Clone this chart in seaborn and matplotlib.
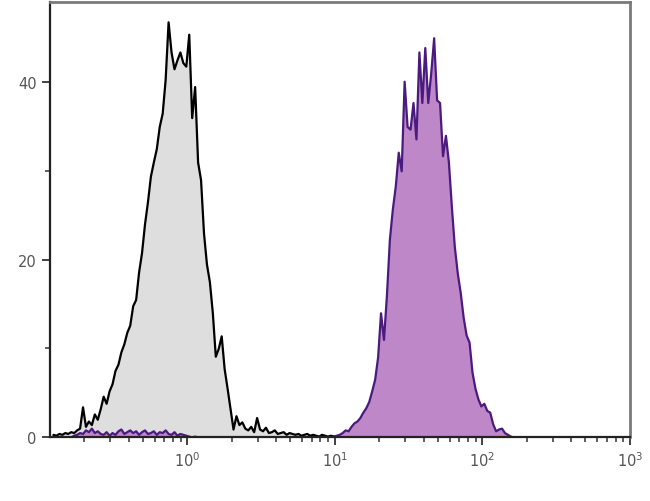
import matplotlib.pyplot as plt
import numpy as np
import pandas as pd
import seaborn as sns

# log10 channel centres, 0.02 decade wide
channel_log = np.round(np.arange(-0.91, 3.0, 0.02), 2)

# isotype control (grey), counts per channel from -0.91 up
control_counts = [
    0.3, 0.2, 0.4, 0.3, 0.5, 0.4, 0.6, 0.5, 0.8, 1.0,
    3.4, 1.2, 1.8, 1.4, 2.6, 2.0, 3.2, 4.6, 3.8, 5.2,
    6.0, 7.5, 8.2, 9.6, 10.5, 11.8, 12.6, 14.8, 15.5, 18.6,
    20.8, 24.0, 26.5, 29.4, 31.0, 32.5, 35.0, 36.5, 40.3, 46.8,
    43.4, 41.5, 42.5, 43.4, 42.2, 41.8, 45.4, 36.0, 39.5, 31.0,
    29.0, 23.0, 19.5, 17.5, 14.0, 9.1, 10.0, 11.4, 7.7, 5.5,
    3.2, 0.9, 2.4, 1.4, 1.7, 1.0, 0.8, 1.2, 0.6, 2.2,
    0.9, 0.7, 1.1, 0.5, 0.6, 0.8, 0.4, 0.5, 0.6, 0.3,
    0.5, 0.4, 0.3, 0.4, 0.2, 0.3, 0.4, 0.2, 0.3, 0.2,
    0.1, 0.3, 0.2, 0.1, 0.2, 0.1, 0.1, 0.2, 0.1,
]

# stained sample (purple), counts per channel from -0.91 up
stained_counts = [
    0.0, 0.0, 0.0, 0.0, 0.0, 0.0, 0.0, 0.2, 0.3, 0.5,
    0.4, 0.8, 0.6, 1.0, 0.5, 0.7, 0.4, 0.3, 0.6, 0.2,
    0.5, 0.3, 0.7, 0.9, 0.4, 0.6, 0.8, 0.5, 0.7, 0.3,
    0.6, 0.8, 0.4, 0.5, 0.7, 0.3, 0.6, 0.5, 0.8, 0.4,
    0.3, 0.6, 0.2, 0.4, 0.3, 0.2, 0.1, 0.0, 0.1, 0.0,
    0.0, 0.0, 0.0, 0.0, 0.0, 0.0, 0.0, 0.0, 0.0, 0.0,
    0.0, 0.0, 0.0, 0.0, 0.0, 0.0, 0.0, 0.0, 0.0, 0.0,
    0.0, 0.0, 0.0, 0.0, 0.0, 0.0, 0.0, 0.0, 0.0, 0.0,
    0.0, 0.0, 0.0, 0.0, 0.0, 0.0, 0.0, 0.0, 0.0, 0.0,
    0.0, 0.0, 0.0, 0.0, 0.0, 0.1, 0.2, 0.3, 0.5, 0.8,
    0.7, 1.2, 1.6, 1.8, 2.2, 2.8, 3.3, 4.0, 5.2, 6.5,
    9.0, 14.0, 11.0, 16.0, 22.3, 25.7, 28.3, 32.1, 30.0, 40.1,
    35.0, 34.7, 37.7, 33.6, 43.4, 37.7, 43.9, 37.7, 41.0, 45.0,
    38.0, 37.7, 31.7, 34.0, 31.0, 26.0, 21.5, 18.5, 16.3, 13.5,
    11.5, 10.7, 7.3, 5.5, 4.3, 3.5, 3.8, 3.0, 2.8, 1.5,
    0.7, 0.9, 1.0, 0.5, 0.3, 0.1,
]

control = pd.DataFrame({'fl': 10 ** channel_log[:len(control_counts)], 'count': control_counts})
stained = pd.DataFrame({'fl': 10 ** channel_log[:len(stained_counts)], 'count': stained_counts})

sns.set_style('ticks')
plt.rcParams['font.family'] = ['DejaVu Sans']

fig = plt.figure(figsize=(6.5, 5.02), dpi=100)
ax = fig.add_axes([0.077, 0.1275, 0.892, 0.866])

hist_kws = dict(x='fl', weights='count', log_scale=True, binwidth=0.02,
                binrange=(-0.92, 3.0), element='poly', fill=True, alpha=1, ax=ax)

sns.histplot(data=control, color='#dedede', edgecolor='black', linewidth=1.6, **hist_kws)
sns.histplot(data=stained, color='#be87c8', edgecolor='#4a1a7e', linewidth=1.6, **hist_kws)

ax.set_xlim(10 ** -0.93, 1000)
ax.set_ylim(0, 49)
ax.set_yticks([0, 20, 40])
ax.set_yticks([10, 30], minor=True)
ax.set_xlabel('')
ax.set_ylabel('')

for side in ['left', 'bottom']:
    ax.spines[side].set_color('#222222')
    ax.spines[side].set_linewidth(1.6)
for side in ['top', 'right']:
    ax.spines[side].set_visible(True)
    ax.spines[side].set_color('#7a7a7a')
    ax.spines[side].set_linewidth(2.0)

ax.tick_params(axis='both', which='major', length=6, width=1.3, color='#333333',
               labelsize=10.5, labelcolor='#555555')
ax.tick_params(axis='both', which='minor', length=3.5, width=1.1, color='#333333')

plt.savefig('out.png', dpi=100)
